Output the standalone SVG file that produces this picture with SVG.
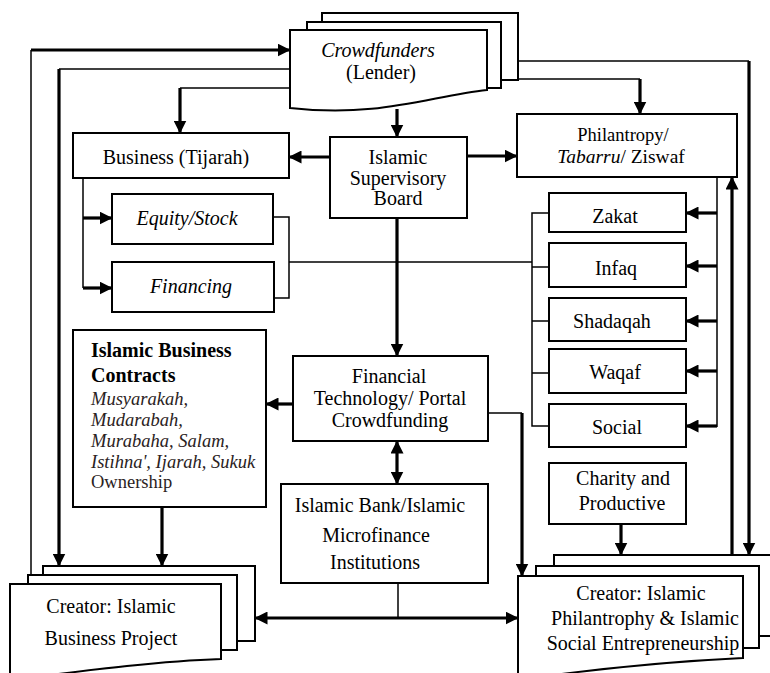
<svg xmlns="http://www.w3.org/2000/svg" width="770" height="673" viewBox="0 0 770 673">
<style>
.box{fill:#fff;stroke:#000;stroke-width:2}
.thin{fill:none;stroke:#000;stroke-width:1.5}
.thick{fill:none;stroke:#000;stroke-width:3.2}
text{font-family:"Liberation Serif","Times New Roman",serif;font-size:20px;fill:#000}
.c{text-anchor:middle}
.i{font-style:italic}
.g{fill:#2a2222;font-size:18.5px}
</style>
<defs>
<marker id="ah" viewBox="0 0 13 13" refX="12.5" refY="6.5" markerWidth="13" markerHeight="13" markerUnits="userSpaceOnUse" orient="auto-start-reverse">
<path d="M0,0 L13,6.5 L0,13 Z" fill="#000"/>
</marker>
</defs>
<rect width="770" height="673" fill="#fff"/>

<g id="crowdfunders">
<rect class="box" x="322" y="13" width="196" height="67"/>
<rect class="box" x="307" y="22" width="194" height="66"/>
<path class="box" d="M290,30 H487 V90 C430,96 380,118 290,108 Z"/>
<text class="c i" x="378" y="57">Crowdfunders</text>
<text class="c" x="381" y="79">(Lender)</text>
</g>

<g id="business">
<rect class="box" x="73" y="133" width="216" height="45"/>
<text class="c" x="176" y="164">Business (Tijarah)</text>
</g>

<g id="supervisory">
<rect class="box" x="330" y="137" width="137" height="81"/>
<text class="c" x="398" y="164">Islamic</text>
<text class="c" x="398" y="185">Supervisory</text>
<text class="c" x="398" y="205">Board</text>
</g>

<g id="philantropy">
<rect class="box" x="517" y="114" width="220" height="63"/>
<text class="c" x="623" y="141" style="font-size:18.5px">Philantropy/</text>
<text class="c" x="621" y="163" style="font-size:19.5px"><tspan class="i">Tabarru</tspan>/ Ziswaf</text>
</g>

<g id="equity">
<rect class="box" x="112" y="194" width="161" height="50"/>
<text class="c i" x="187" y="225">Equity/Stock</text>
</g>

<g id="financing">
<rect class="box" x="112" y="262" width="162" height="50"/>
<text class="c i" x="191" y="293">Financing</text>
</g>

<g id="zakat">
<rect class="box" x="549" y="193" width="137" height="39"/>
<text class="c" x="615" y="223">Zakat</text>
</g>
<g id="infaq">
<rect class="box" x="549" y="243" width="137" height="44"/>
<text class="c" x="616" y="275">Infaq</text>
</g>
<g id="shadaqah">
<rect class="box" x="549" y="298" width="137" height="43"/>
<text class="c" x="612" y="328">Shadaqah</text>
</g>
<g id="waqaf">
<rect class="box" x="549" y="349" width="137" height="44"/>
<text class="c" x="615" y="379">Waqaf</text>
</g>
<g id="social">
<rect class="box" x="549" y="404" width="137" height="43"/>
<text class="c" x="617" y="434">Social</text>
</g>

<g id="contracts">
<rect class="box" x="73" y="330" width="193" height="177"/>
<text x="91" y="357" font-weight="bold">Islamic Business</text>
<text x="91" y="382" font-weight="bold">Contracts</text>
<text class="i g" x="91" y="405">Musyarakah,</text>
<text class="i g" x="91" y="426">Mudarabah,</text>
<text class="i g" x="91" y="447">Murabaha, Salam,</text>
<text class="i g" x="91" y="468">Istihna', Ijarah, Sukuk</text>
<text class="g" x="91" y="488">Ownership</text>
</g>

<g id="fintech">
<rect class="box" x="293" y="356" width="195" height="85"/>
<text class="c" x="389" y="383">Financial</text>
<text class="c" x="390" y="405">Technology/ Portal</text>
<text class="c" x="390" y="427">Crowdfunding</text>
</g>

<g id="bank">
<rect class="box" x="281" y="484" width="207" height="99"/>
<text class="c" x="380" y="512">Islamic Bank/Islamic</text>
<text class="c" x="376" y="542">Microfinance</text>
<text class="c" x="375" y="569">Institutions</text>
</g>

<g id="charity">
<rect class="box" x="549" y="463" width="137" height="61"/>
<text class="c" x="623" y="485">Charity and</text>
<text class="c" x="622" y="510">Productive</text>
</g>

<g id="creator-business">
<rect class="box" x="43" y="566" width="212" height="75"/>
<rect class="box" x="28" y="575" width="209" height="75"/>
<path class="box" d="M10,584 H221 V659 C160,661 90,670 10,680 Z"/>
<text class="c" x="111" y="613">Creator: Islamic</text>
<text class="c" x="111" y="645">Business Project</text>
</g>

<g id="creator-philanthropy">
<rect class="box" x="554" y="555" width="230" height="81"/>
<rect class="box" x="536" y="566" width="223" height="82"/>
<path class="box" d="M518,576 H743 V658 C680,661 600,668 518,680 Z"/>
<text class="c" x="641" y="600">Creator: Islamic</text>
<text class="c" x="645" y="625">Philantrophy &amp; Islamic</text>
<text class="c" x="643" y="650">Social Entrepreneurship</text>
</g>

<g id="connectors">
<path class="thin" d="M31,575 V50"/>
<path class="thick" d="M31,50 H290" marker-end="url(#ah)"/>
<path class="thin" d="M290,69 H59"/>
<path class="thick" d="M59,69 V566" marker-end="url(#ah)"/>
<path class="thin" d="M290,88 H180"/>
<path class="thick" d="M180,88 V133" marker-end="url(#ah)"/>
<path class="thick" d="M397,109 V137" marker-end="url(#ah)"/>
<path class="thin" d="M518,79 H640"/>
<path class="thick" d="M640,79 V114" marker-end="url(#ah)"/>
<path class="thin" d="M518,61 H749"/>
<path class="thick" d="M749,61 V555" marker-end="url(#ah)"/>
<path class="thick" d="M330,157 H289" marker-end="url(#ah)"/>
<path class="thick" d="M467,156 H517" marker-end="url(#ah)"/>
<path class="thick" d="M397,218 V356" marker-end="url(#ah)"/>
<path class="thin" d="M83,178 V288"/>
<path class="thick" d="M83,218 H112" marker-end="url(#ah)"/>
<path class="thick" d="M83,288 H112" marker-end="url(#ah)"/>
<path class="thin" d="M273,217 H289 V298 H274"/>
<path class="thin" d="M289,262 H532"/>
<path class="thin" d="M549,213 H532 V426 H549 M532,267 H549 M532,321 H549 M532,373 H549"/>
<path class="thin" d="M717,177 V427"/>
<path class="thick" d="M717,213 H686" marker-end="url(#ah)"/>
<path class="thick" d="M717,266 H686" marker-end="url(#ah)"/>
<path class="thick" d="M717,321 H686" marker-end="url(#ah)"/>
<path class="thick" d="M717,371 H686" marker-end="url(#ah)"/>
<path class="thick" d="M717,426 H686" marker-end="url(#ah)"/>
<path class="thick" d="M732,555 V177" marker-end="url(#ah)"/>
<path class="thick" d="M293,404 H266" marker-end="url(#ah)"/>
<path class="thin" d="M488,413 H522"/>
<path class="thick" d="M522,413 V576" marker-end="url(#ah)"/>
<path class="thick" d="M397,441 V484" marker-start="url(#ah)" marker-end="url(#ah)"/>
<path class="thin" d="M398,583 V618"/>
<path class="thick" d="M255,618 H518" marker-start="url(#ah)" marker-end="url(#ah)"/>
<path class="thick" d="M162,507 V566" marker-end="url(#ah)"/>
<path class="thick" d="M621,524 V555" marker-end="url(#ah)"/>
</g>
</svg>
